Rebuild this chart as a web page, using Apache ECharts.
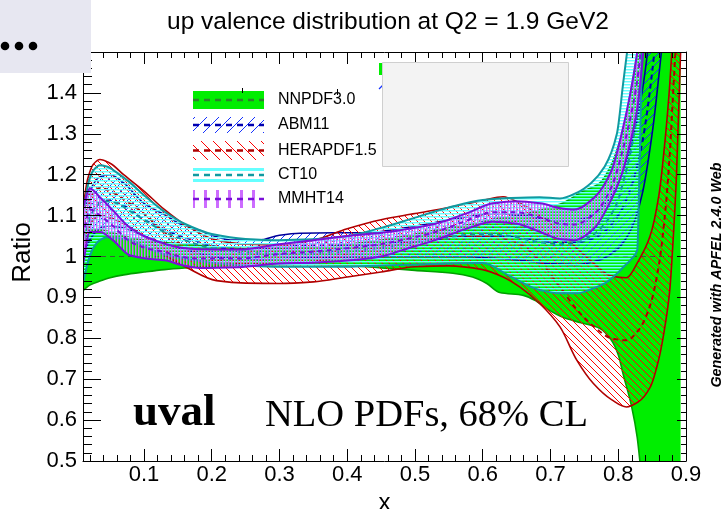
<!DOCTYPE html>
<html>
<head>
<meta charset="utf-8">
<script src="https://cdn.jsdelivr.net/npm/echarts@6/dist/echarts.min.js"></script>
<style>
  html, body { margin: 0; padding: 0; background: #fff; }
  #chart { width: 725px; height: 509px; }
</style>
</head>
<body>
<div id="chart"></div>
<script>
// Ratio of each PDF set to NNPDF3.0 central value: x grid, lower/upper 68% CL bounds, central.
const nnpdfX  = [0.01, 0.02, 0.035, 0.05, 0.07, 0.1, 0.13, 0.16, 0.2, 0.25, 0.3, 0.35, 0.4, 0.45, 0.5, 0.556, 0.585, 0.606, 0.625, 0.66, 0.68, 0.695, 0.72, 0.745, 0.773, 0.79, 0.8, 0.807, 0.82, 0.828, 0.835, 0.85, 0.87, 0.892];
const nnpdfUp = [1.068, 1.068, 1.066, 1.06, 1.05, 1.04, 1.034, 1.03, 1.025, 1.02, 1.02, 1.022, 1.03, 1.04, 1.055, 1.072, 1.08, 1.088, 1.094, 1.104, 1.112, 1.118, 1.132, 1.157, 1.18, 1.225, 1.27, 1.31, 1.42, 1.5, 1.58, 1.8, 2.2, 2.8];
const nnpdfLo = [0.917, 0.93, 0.94, 0.948, 0.955, 0.962, 0.968, 0.972, 0.976, 0.978, 0.98, 0.98, 0.978, 0.972, 0.966, 0.959, 0.95, 0.934, 0.912, 0.905, 0.89, 0.872, 0.85, 0.838, 0.824, 0.795, 0.76, 0.714, 0.631, 0.558, 0.45, 0.25, -0.1, -0.5];
const nnpdfCenX = [0.01, 0.892];
const nnpdfCen  = [1, 1];

const abmX   = [0.01, 0.02, 0.035, 0.05, 0.07, 0.1, 0.133, 0.153, 0.182, 0.2, 0.232, 0.27, 0.3, 0.33, 0.38, 0.43, 0.47, 0.52, 0.57, 0.62, 0.66, 0.7, 0.74, 0.77, 0.8, 0.82, 0.835, 0.85, 0.87];
const abmUp  = [1.10, 1.16, 1.195, 1.2, 1.18, 1.13, 1.10, 1.08, 1.064, 1.052, 1.04, 1.04, 1.052, 1.057, 1.058, 1.058, 1.066, 1.08, 1.095, 1.105, 1.1, 1.09, 1.09, 1.11, 1.18, 1.28, 1.4, 1.6, 2.0];
const abmLo  = [1.0, 1.04, 1.07, 1.075, 1.07, 1.05, 1.03, 1.02, 1.008, 1.0, 0.995, 0.993, 0.995, 0.997, 0.998, 1.0, 1.0, 1.0, 1.0, 0.995, 0.99, 0.982, 0.98, 0.99, 1.02, 1.07, 1.15, 1.3, 1.6];
const abmCen = [1.05, 1.1, 1.133, 1.138, 1.125, 1.09, 1.065, 1.05, 1.036, 1.026, 1.018, 1.017, 1.023, 1.027, 1.028, 1.029, 1.033, 1.04, 1.048, 1.05, 1.045, 1.036, 1.035, 1.05, 1.1, 1.175, 1.275, 1.45, 1.8];

const heraX   = [0.01, 0.017, 0.025, 0.035, 0.05, 0.07, 0.1, 0.13, 0.163, 0.207, 0.25, 0.3, 0.35, 0.4, 0.45, 0.5, 0.55, 0.6, 0.63, 0.655, 0.684, 0.714, 0.739, 0.763, 0.79, 0.812, 0.83, 0.847, 0.86, 0.87, 0.876, 0.881, 0.886, 0.892];
const heraUp  = [1.12, 1.19, 1.225, 1.237, 1.228, 1.2, 1.16, 1.115, 1.075, 1.04, 1.03, 1.028, 1.04, 1.068, 1.09, 1.105, 1.12, 1.137, 1.146, 1.13, 1.1, 1.06, 1.02, 0.985, 0.952, 0.948, 0.99, 1.05, 1.15, 1.3, 1.42, 1.55, 1.7, 1.9];
const heraLo  = [1.0, 1.06, 1.09, 1.1, 1.095, 1.08, 1.05, 1.005, 0.973, 0.941, 0.935, 0.934, 0.938, 0.95, 0.962, 0.975, 0.977, 0.968, 0.95, 0.925, 0.885, 0.828, 0.746, 0.69, 0.65, 0.632, 0.645, 0.68, 0.75, 0.84, 0.917, 1.04, 1.2, 1.5];
const heraCen = [1.06, 1.12, 1.155, 1.168, 1.16, 1.14, 1.105, 1.06, 1.02, 0.99, 0.982, 0.981, 0.988, 1.005, 1.023, 1.037, 1.047, 1.05, 1.045, 1.03, 0.99, 0.925, 0.87, 0.83, 0.8, 0.795, 0.82, 0.88, 0.98, 1.12, 1.25, 1.4, 1.55, 1.75];

const ctX   = [0.01, 0.018, 0.025, 0.035, 0.045, 0.06, 0.08, 0.1, 0.13, 0.16, 0.2, 0.25, 0.3, 0.35, 0.4, 0.45, 0.5, 0.55, 0.6, 0.64, 0.684, 0.714, 0.74, 0.76, 0.78, 0.798, 0.807, 0.82, 0.828, 0.832, 0.835, 0.845];
const ctUp  = [1.10, 1.18, 1.21, 1.223, 1.22, 1.205, 1.18, 1.15, 1.11, 1.08, 1.055, 1.043, 1.04, 1.042, 1.05, 1.07, 1.095, 1.12, 1.138, 1.143, 1.145, 1.142, 1.157, 1.18, 1.22, 1.30, 1.42, 1.6, 1.75, 1.85, 1.95, 2.3];
const ctLo  = [0.934, 0.99, 1.02, 1.04, 1.047, 1.045, 1.04, 1.025, 1.005, 0.995, 0.985, 0.978, 0.975, 0.975, 0.975, 0.978, 0.98, 0.983, 0.984, 0.952, 0.918, 0.91, 0.91, 0.92, 0.934, 0.958, 0.973, 0.995, 1.015, 1.26, 1.5, 2.2];
const ctCen = [1.02, 1.08, 1.11, 1.13, 1.135, 1.13, 1.11, 1.09, 1.06, 1.04, 1.02, 1.01, 1.007, 1.008, 1.012, 1.022, 1.035, 1.048, 1.055, 1.05, 1.035, 1.03, 1.035, 1.05, 1.08, 1.13, 1.18, 1.27, 1.35, 1.42, 1.48, 1.7];

const mmhtX   = [0.01, 0.02, 0.035, 0.054, 0.079, 0.104, 0.133, 0.153, 0.182, 0.24, 0.3, 0.35, 0.4, 0.45, 0.48, 0.53, 0.58, 0.615, 0.65, 0.685, 0.715, 0.735, 0.765, 0.79, 0.805, 0.818, 0.828, 0.84];
const mmhtUp  = [1.12, 1.166, 1.145, 1.113, 1.071, 1.047, 1.03, 1.022, 1.018, 1.017, 1.03, 1.04, 1.05, 1.058, 1.065, 1.08, 1.108, 1.13, 1.135, 1.13, 1.118, 1.115, 1.145, 1.21, 1.3, 1.4, 1.5, 1.7];
const mmhtLo  = [0.98, 1.06, 1.06, 1.04, 1.003, 0.995, 0.99, 0.98, 0.972, 0.974, 0.983, 0.985, 0.99, 1.0, 1.015, 1.04, 1.07, 1.085, 1.08, 1.06, 1.042, 1.04, 1.07, 1.14, 1.2, 1.28, 1.36, 1.55];
const mmhtCen = [1.05, 1.115, 1.1, 1.075, 1.037, 1.02, 1.01, 1.0, 0.995, 0.995, 1.006, 1.012, 1.02, 1.03, 1.04, 1.06, 1.09, 1.108, 1.108, 1.095, 1.08, 1.078, 1.105, 1.17, 1.25, 1.34, 1.43, 1.62];

const legendNames = ['NNPDF3.0', 'ABM11', 'HERAPDF1.5', 'CT10', 'MMHT14'];

// ---- fill patterns -------------------------------------------------------
function tile(w, h, draw) {
  const c = document.createElement('canvas');
  c.width = w; c.height = h;
  draw(c.getContext('2d'), w, h);
  return { image: c, repeat: 'repeat' };
}
function slashTile(size, color) {          // "/" hatching
  return tile(size, size, (g, w, h) => {
    g.strokeStyle = color; g.lineWidth = 1; g.beginPath();
    g.moveTo(-1, h + 1); g.lineTo(w + 1, -1);
    g.moveTo(-1, 1); g.lineTo(1, -1);
    g.moveTo(w - 1, h + 1); g.lineTo(w + 1, h - 1);
    g.stroke();
  });
}
function backslashTile(size, color) {      // "\" hatching
  return tile(size, size, (g, w, h) => {
    g.strokeStyle = color; g.lineWidth = 1; g.beginPath();
    g.moveTo(-1, -1); g.lineTo(w + 1, h + 1);
    g.moveTo(w - 1, -1); g.lineTo(w + 1, 1);
    g.moveTo(-1, h - 1); g.lineTo(1, h + 1);
    g.stroke();
  });
}
const GREEN = '#00ee00';
const fills = {
  nnpdf: GREEN,
  abm: slashTile(8, '#1432ff'),
  hera: backslashTile(7, '#ff0000'),
  ct: tile(1, 3, (g) => {
    g.fillStyle = '#66ffff'; g.fillRect(0, 0, 1, 1);
    g.fillStyle = 'rgba(102,255,255,0.45)'; g.fillRect(0, 1, 1, 1);
  }),
  mmht: tile(3, 1, (g) => {
    g.fillStyle = '#cc6cff'; g.fillRect(0, 0, 1, 1);
    g.fillStyle = 'rgba(204,108,255,0.45)'; g.fillRect(1, 0, 1, 1);
  })
};
const legendFills = {
  nnpdf: GREEN,
  abm: slashTile(12, '#1432ff'),
  hera: backslashTile(12, '#ff0000'),
  ct: null,
  mmht: tile(12, 1, (g) => { g.fillStyle = '#cc6cff'; g.fillRect(0, 0, 3, 1); })
};

// ---- monotone cubic curves through pixel points --------------------------
function monotoneSegments(pts) {
  const n = pts.length, dx = [], s = [], m = new Array(n);
  for (let i = 0; i < n - 1; i++) {
    dx[i] = pts[i + 1][0] - pts[i][0];
    s[i] = (pts[i + 1][1] - pts[i][1]) / dx[i];
  }
  m[0] = s[0]; m[n - 1] = s[n - 2];
  for (let i = 1; i < n - 1; i++) {
    if (s[i - 1] * s[i] <= 0) { m[i] = 0; continue; }
    const w1 = 2 * dx[i] + dx[i - 1], w2 = dx[i] + 2 * dx[i - 1];
    m[i] = (w1 + w2) / (w1 / s[i - 1] + w2 / s[i]);
  }
  const segs = [];
  for (let i = 0; i < n - 1; i++) {
    const h = dx[i] / 3;
    segs.push([pts[i], [pts[i][0] + h, pts[i][1] + m[i] * h],
               [pts[i + 1][0] - h, pts[i + 1][1] - m[i + 1] * h], pts[i + 1]]);
  }
  return segs;
}
const fmt = p => p[0].toFixed(2) + ' ' + p[1].toFixed(2);
function curvePath(segs) {
  let d = 'M' + fmt(segs[0][0]);
  segs.forEach(sg => { d += 'C' + fmt(sg[1]) + ' ' + fmt(sg[2]) + ' ' + fmt(sg[3]); });
  return d;
}
function bandPath(upSegs, loSegs) {
  let d = curvePath(upSegs);
  d += 'L' + fmt(loSegs[loSegs.length - 1][3]);
  for (let i = loSegs.length - 1; i >= 0; i--) {
    const sg = loSegs[i];
    d += 'C' + fmt(sg[2]) + ' ' + fmt(sg[1]) + ' ' + fmt(sg[0]);
  }
  return d + 'Z';
}

// One custom series per PDF set: hatched band, solid edges, dashed central line.
function bandSeries(name, xs, lo, up, cenX, cen, look) {
  return {
    type: 'custom',
    name: name,
    clip: true,
    coordinateSystem: 'cartesian2d',
    data: xs.map((x, i) => [x, lo[i], up[i]]),
    encode: { x: 0, y: [1, 2] },
    renderItem: function (params, api) {
      if (params.dataIndex !== 0) return null;
      const px = (xv, yv) => xv.map((x, i) => api.coord([x, yv[i]]));
      const upS = monotoneSegments(px(xs, up));
      const loS = monotoneSegments(px(xs, lo));
      const cenS = monotoneSegments(px(cenX, cen));
      return {
        type: 'group',
        children: [
          { type: 'path', shape: { pathData: bandPath(upS, loS) }, style: { fill: look.fill, stroke: 'none' } },
          { type: 'path', shape: { pathData: curvePath(upS) }, style: { fill: 'none', stroke: look.edge, lineWidth: look.edgeWidth } },
          { type: 'path', shape: { pathData: curvePath(loS) }, style: { fill: 'none', stroke: look.edge, lineWidth: look.edgeWidth } },
          { type: 'path', shape: { pathData: curvePath(cenS) }, style: { fill: 'none', stroke: look.center, lineWidth: look.centerWidth, lineDash: [5, 4] } }
        ]
      };
    }
  };
}

const looks = {
  nnpdf: { fill: fills.nnpdf, edge: '#00a000', edgeWidth: 1.6, center: '#3a5a3a', centerWidth: 1.2 },
  abm:   { fill: fills.abm,   edge: '#00009a', edgeWidth: 1.6, center: '#0000b0', centerWidth: 2 },
  hera:  { fill: fills.hera,  edge: '#b00000', edgeWidth: 1.6, center: '#b00000', centerWidth: 2 },
  ct:    { fill: fills.ct,    edge: '#109aa0', edgeWidth: 2,   center: '#109aa0', centerWidth: 2 },
  mmht:  { fill: fills.mmht,  edge: '#7a10d8', edgeWidth: 2,   center: '#7a10d8', centerWidth: 2 }
};

const FONT = '"Liberation Sans", Arial, Helvetica, sans-serif';
const SERIF = '"Liberation Serif", "Times New Roman", serif';

function xAxisDef(bottom) {
  return {
    type: 'value', position: bottom ? 'bottom' : 'top',
    min: 0.01, max: 0.9, splitNumber: 9, minInterval: 0.1, maxInterval: 0.1,
    z: 10,
    axisLine: { show: true, onZero: false, lineStyle: { color: '#000', width: 1 } },
    axisTick: { show: true, inside: true, length: 12, lineStyle: { color: '#000', width: 1 } },
    minorTick: { show: true, splitNumber: 5, length: 6, lineStyle: { color: '#000', width: 1 } },
    splitLine: { show: false },
    axisLabel: bottom
      ? { show: true, showMinLabel: false, fontSize: 22, color: '#000', fontFamily: FONT, margin: 3 }
      : { show: false },
    name: bottom ? 'x' : '',
    nameLocation: 'middle', nameGap: 24,
    nameTextStyle: { fontSize: 24, color: '#000', fontFamily: FONT }
  };
}
function yAxisDef(left) {
  return {
    type: 'value', position: left ? 'left' : 'right',
    min: 0.5, max: 1.5, interval: 0.1,
    z: 10,
    axisLine: { show: true, onZero: false, lineStyle: { color: '#000', width: 1 } },
    axisTick: { show: true, inside: true, length: left ? 18 : 9, lineStyle: { color: '#000', width: 1 } },
    minorTick: { show: true, splitNumber: 5, length: left ? 9 : 5, lineStyle: { color: '#000', width: 1 } },
    splitLine: { show: false },
    axisLabel: left
      ? { show: true, showMaxLabel: false, fontSize: 22, color: '#000', fontFamily: FONT, margin: 6 }
      : { show: false },
    name: left ? 'Ratio' : '',
    nameLocation: 'middle', nameGap: 43, nameRotate: 90,
    nameTextStyle: { fontSize: 26, color: '#000', fontFamily: FONT, padding: [0, 0, 0, 8] }
  };
}

// ---- legend drawn as graphics (hatched swatches with dashed central line) -
const legendKeys = ['nnpdf', 'abm', 'hera', 'ct', 'mmht'];
const legendRows = [
  { y: 91, h: 18 }, { y: 117, h: 16 }, { y: 141, h: 19 }, { y: 168, h: 14 }, { y: 190, h: 18 }
];
const legendGraphics = [];
legendKeys.forEach((k, i) => {
  const row = legendRows[i];
  const cy = row.y + row.h / 2;
  if (k === 'ct') {
    legendGraphics.push({ type: 'rect', shape: { x: 193, y: row.y, width: 71, height: 3 }, style: { fill: '#66ffff' }, z: 20 });
    legendGraphics.push({ type: 'rect', shape: { x: 193, y: row.y + row.h - 3, width: 71, height: 3 }, style: { fill: '#66ffff' }, z: 20 });
  } else {
    legendGraphics.push({ type: 'rect', shape: { x: 193, y: row.y, width: 71, height: row.h }, style: { fill: legendFills[k] }, z: 20 });
  }
  legendGraphics.push({
    type: 'line', shape: { x1: 193, y1: cy, x2: 264, y2: cy },
    style: { stroke: k === 'nnpdf' ? '#2e7d2e' : looks[k].center, lineWidth: 2.5, lineDash: [6, 5] }, z: 21
  });
  legendGraphics.push({
    type: 'text', x: 278, y: cy,
    style: { text: legendNames[i], font: '16px ' + FONT, fill: '#000', verticalAlign: 'middle', textAlign: 'left' }, z: 21
  });
});

const chart = echarts.init(document.getElementById('chart'), null, { renderer: 'canvas' });
chart.setOption({
  animation: false,
  backgroundColor: '#fff',
  title: {
    text: 'up valence distribution at Q2 = 1.9 GeV2',
    left: 162, top: 5,
    textStyle: { fontSize: 24.5, fontWeight: 'normal', color: '#000', fontFamily: FONT }
  },
  grid: { left: 83, top: 52, right: 39, bottom: 48, containLabel: false, outerBoundsMode: 'none' },
  xAxis: [xAxisDef(true), xAxisDef(false)],
  yAxis: [yAxisDef(true), yAxisDef(false)],
  series: [
    bandSeries('NNPDF3.0', nnpdfX, nnpdfLo, nnpdfUp, nnpdfCenX, nnpdfCen, looks.nnpdf),
    bandSeries('ABM11', abmX, abmLo, abmUp, abmX, abmCen, looks.abm),
    bandSeries('HERAPDF1.5', heraX, heraLo, heraUp, heraX, heraCen, looks.hera),
    bandSeries('CT10', ctX, ctLo, ctUp, ctX, ctCen, looks.ct),
    bandSeries('MMHT14', mmhtX, mmhtLo, mmhtUp, mmhtX, mmhtCen, looks.mmht)
  ],
  graphic: {
    elements: legendGraphics.concat([
      // stray ticks near the legend
      { type: 'line', shape: { x1: 242.5, y1: 88, x2: 242.5, y2: 93 }, style: { stroke: '#000', lineWidth: 1 }, z: 22 },
      { type: 'line', shape: { x1: 337.5, y1: 89, x2: 337.5, y2: 95 }, style: { stroke: '#000', lineWidth: 1 }, z: 22 },
      // second legend, mostly hidden behind a grey panel
      { type: 'rect', shape: { x: 379, y: 63, width: 5, height: 12 }, style: { fill: GREEN }, z: 22 },
      { type: 'line', shape: { x1: 379, y1: 89, x2: 383, y2: 85 }, style: { stroke: '#1432ff', lineWidth: 1.2 }, z: 22 },
      { type: 'rect', shape: { x: 382.5, y: 62.5, width: 186, height: 104 }, style: { fill: '#f3f3f3', stroke: '#cfcfcf', lineWidth: 1 }, z: 30 },
      // annotations
      { type: 'text', x: 133, y: 413, style: { text: 'uval', font: 'bold 45px ' + SERIF, fill: '#000', verticalAlign: 'middle' }, z: 22 },
      { type: 'text', x: 265, y: 416, style: { text: 'NLO PDFs, 68% CL', font: '38.5px ' + SERIF, fill: '#000', verticalAlign: 'middle' }, z: 22 },
      { type: 'text', x: 717, y: 275, rotation: Math.PI / 2,
        style: { text: 'Generated with APFEL 2.4.0 Web', font: 'italic bold 14.4px ' + FONT, fill: '#000', textAlign: 'center', verticalAlign: 'middle' }, z: 22 },
      // toolbar overlay in the top-left corner
      { type: 'rect', shape: { x: 0, y: 0, width: 91, height: 73 }, style: { fill: '#e7e7f1' }, z: 40 },
      { type: 'circle', shape: { cx: 5, cy: 46, r: 4.3 }, style: { fill: '#000' }, z: 41 },
      { type: 'circle', shape: { cx: 19, cy: 46, r: 4.3 }, style: { fill: '#000' }, z: 41 },
      { type: 'circle', shape: { cx: 33, cy: 46, r: 4.3 }, style: { fill: '#000' }, z: 41 }
    ])
  }
});
</script>
</body>
</html>
